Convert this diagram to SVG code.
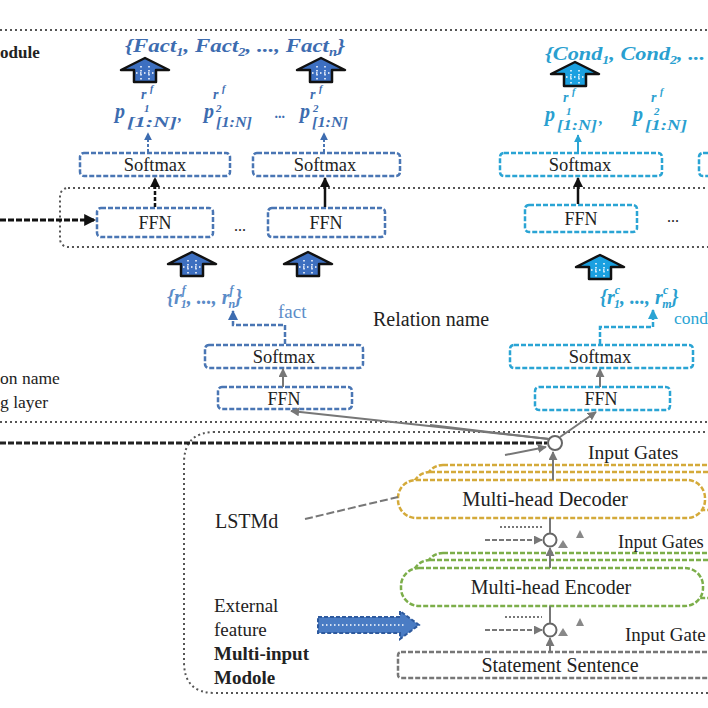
<svg xmlns="http://www.w3.org/2000/svg" width="708" height="708" viewBox="0 0 708 708">
<style>
.t{font-family:"Liberation Serif",serif;fill:#222}
.m{font-family:"Liberation Serif",serif;font-style:italic;font-weight:bold}
.bl{fill:#3d6cb0}
.cy{fill:#2a9fd0}
.lb{fill:#5b8cc8}
.bbox{fill:#fff;stroke:#4a76b4;stroke-width:2.5;stroke-dasharray:5 2}
.cbox{fill:#fff;stroke:#2aa4d4;stroke-width:2.5;stroke-dasharray:5 2}
.dot{fill:none;stroke:#555;stroke-width:2;stroke-dasharray:2 3}
.gl{fill:none;stroke:#777;stroke-width:2}
.yb{fill:#fff;stroke:#d4aa3a;stroke-width:2.5;stroke-dasharray:5 2}
.gb{fill:#fff;stroke:#7cae4a;stroke-width:2.5;stroke-dasharray:5 2}
.sb{fill:#fff;stroke:#777;stroke-width:2.5;stroke-dasharray:5 2}
.wd{stroke:#fff;stroke-width:1.5;stroke-dasharray:1.5 2.5}
</style>
<defs>
<marker id="ak" viewBox="0 0 10 10" refX="9" refY="5" markerWidth="4" markerHeight="4" orient="auto"><path d="M0,0L10,5L0,10z" fill="#111"/></marker>
<marker id="ag" viewBox="0 0 10 10" refX="9" refY="5" markerWidth="4.5" markerHeight="4.5" orient="auto"><path d="M0,0L10,5L0,10z" fill="#777"/></marker>
<marker id="ab" viewBox="0 0 10 10" refX="9" refY="5" markerWidth="4" markerHeight="4" orient="auto"><path d="M0,0L10,5L0,10z" fill="#3d6cb0"/></marker>
<marker id="ac" viewBox="0 0 10 10" refX="9" refY="5" markerWidth="4" markerHeight="4" orient="auto"><path d="M0,0L10,5L0,10z" fill="#2aa4d4"/></marker>
<g id="ua">
<path d="M0,0L24,12L11,12L11,24L-11,24L-11,12L-24,12Z" stroke="#111" stroke-width="2.5" stroke-linejoin="round"/>
<path class="wd" d="M-4,8V22M4,8V22M-9,15H9"/>
</g>
</defs>

<g id="frames">
<line class="dot" x1="0" y1="30" x2="708" y2="30"/>
<rect class="dot" x="60" y="188" width="700" height="59" rx="8"/>
<line class="dot" x1="0" y1="422" x2="708" y2="422"/>
<path class="dot" d="M760,432H215Q184,432 184,463V662Q184,693 215,693H760"/>
</g>

<g id="fact-out">
<text class="m bl" x="125" y="52" font-size="19" textLength="220" lengthAdjust="spacingAndGlyphs">{Fact<tspan font-size="12" dy="4">1</tspan><tspan dy="-4">, Fact</tspan><tspan font-size="12" dy="4">2</tspan><tspan dy="-4">, ..., Fact</tspan><tspan font-size="12" dy="4">n</tspan><tspan dy="-4">}</tspan></text>
<use href="#ua" x="145" y="58" fill="#3d6fc0"/>
<use href="#ua" x="321" y="58" fill="#3d6fc0"/>
</g>
<g id="cond-out">
<text class="m cy" x="545" y="60" font-size="19" textLength="160" lengthAdjust="spacingAndGlyphs">{Cond<tspan font-size="12" dy="4">1</tspan><tspan dy="-4">, Cond</tspan><tspan font-size="12" dy="4">2</tspan><tspan dy="-4">, ...</tspan></text>
<use href="#ua" x="575" y="62" fill="#1aa0e0"/>
</g>

<g id="prob-labels">
<g class="bl">
<text class="m" x="115" y="118" font-size="20">p</text>
<text class="m" x="127" y="127" font-size="14" textLength="50" lengthAdjust="spacingAndGlyphs">[1:N]</text>
<text class="m" x="141" y="99" font-size="14">r</text>
<text class="m" x="150" y="92" font-size="10">f</text>
<text class="m" x="144" y="112" font-size="11">1</text>
<text class="m" x="178" y="121" font-size="16">,</text>

<text class="m" x="204" y="118" font-size="20">p</text>
<text class="m" x="216" y="127" font-size="14" textLength="36" lengthAdjust="spacingAndGlyphs">[1:N]</text>
<text class="m" x="213" y="99" font-size="14">r</text>
<text class="m" x="222" y="92" font-size="10">f</text>
<text class="m" x="216" y="112" font-size="11">2</text>

<text class="m" x="275" y="118" font-size="14">...</text>

<text class="m" x="300" y="118" font-size="20">p</text>
<text class="m" x="312" y="127" font-size="14" textLength="36" lengthAdjust="spacingAndGlyphs">[1:N]</text>
<text class="m" x="310" y="99" font-size="14">r</text>
<text class="m" x="319" y="92" font-size="10">f</text>
<text class="m" x="313" y="112" font-size="11">2</text>
</g>
<g class="cy">
<text class="m" x="545" y="121" font-size="20">p</text>
<text class="m" x="557" y="130" font-size="14" textLength="40" lengthAdjust="spacingAndGlyphs">[1:N]</text>
<text class="m" x="563" y="102" font-size="14">r</text>
<text class="m" x="572" y="95" font-size="10">f</text>
<text class="m" x="566" y="115" font-size="11">1</text>
<text class="m" x="599" y="124" font-size="16">,</text>

<text class="m" x="633" y="121" font-size="20">p</text>
<text class="m" x="645" y="130" font-size="14" textLength="42" lengthAdjust="spacingAndGlyphs">[1:N]</text>
<text class="m" x="651" y="102" font-size="14">r</text>
<text class="m" x="660" y="95" font-size="10">f</text>
<text class="m" x="654" y="115" font-size="11">2</text>
</g>
</g>

<g id="softmax-f1"><rect class="bbox" x="80" y="153" width="150" height="23" rx="4"/><text class="t" x="155" y="171" text-anchor="middle" font-size="18.5">Softmax</text></g>
<g id="softmax-f2"><rect class="bbox" x="253" y="153" width="147" height="23" rx="4"/><text class="t" x="325" y="171" text-anchor="middle" font-size="18.5">Softmax</text></g>
<g id="softmax-c1"><rect class="cbox" x="500" y="153" width="162" height="23" rx="4"/><text class="t" x="580" y="171" text-anchor="middle" font-size="18.5">Softmax</text></g>
<g id="softmax-c2"><rect class="cbox" x="699" y="153" width="40" height="23" rx="4"/></g>
<g id="ffn-f1"><rect class="bbox" x="97" y="208" width="116" height="29" rx="4"/><text class="t" x="155" y="229" text-anchor="middle" font-size="18">FFN</text></g>
<g id="ffn-f2"><rect class="bbox" x="268" y="208" width="117" height="29" rx="4"/><text class="t" x="326" y="229" text-anchor="middle" font-size="18">FFN</text></g>
<g id="ffn-c1"><rect class="cbox" x="525" y="205" width="112" height="27" rx="4"/><text class="t" x="581" y="225" text-anchor="middle" font-size="18">FFN</text></g>
<text class="t" x="240" y="231" text-anchor="middle" font-size="16">...</text>
<text class="t" x="673" y="222" text-anchor="middle" font-size="16">...</text>

<g id="rel-f">
<text class="m lb" x="167" y="304" font-size="20" font-weight="normal">{r<tspan font-size="12" dy="-10">f</tspan><tspan font-size="12" dx="-5" dy="14">1</tspan><tspan dy="-4">, ..., r</tspan><tspan font-size="12" dy="-10">f</tspan><tspan font-size="12" dx="-5" dy="14">n</tspan><tspan dy="-4">}</tspan></text>
<text class="t" x="278" y="318" style="fill:#5b8cc8" font-size="19">fact</text>
<use href="#ua" x="192" y="252" fill="#3d6fc0"/>
<use href="#ua" x="308" y="252" fill="#3d6fc0"/>
</g>
<g id="rel-c">
<text class="m cy" x="600" y="304" font-size="20" font-weight="normal">{r<tspan font-size="12" dy="-10">c</tspan><tspan font-size="12" dx="-6" dy="14">1</tspan><tspan dy="-4">, ..., r</tspan><tspan font-size="12" dy="-10">c</tspan><tspan font-size="12" dx="-6" dy="14">m</tspan><tspan dy="-4">}</tspan></text>
<text class="t" x="674" y="324" style="fill:#2aa4d4" font-size="17.5">cond</text>
<use href="#ua" x="600" y="255" fill="#1aa0e0"/>
</g>
<text class="t" x="373" y="326" font-size="20">Relation name</text>
<text class="t" x="0" y="384" font-size="17.5">on name</text>
<text class="t" x="0" y="408" font-size="17.5">g layer</text>
<text class="t" x="0" y="58" font-size="17" font-weight="bold">odule</text>

<g id="softmax-rf"><rect class="bbox" x="205" y="345" width="158" height="23" rx="4"/><text class="t" x="284" y="363" text-anchor="middle" font-size="18.5">Softmax</text></g>
<g id="ffn-rf"><rect class="bbox" x="218" y="387" width="134" height="22" rx="4"/><text class="t" x="284" y="405" text-anchor="middle" font-size="18">FFN</text></g>
<g id="softmax-rc"><rect class="cbox" x="510" y="345" width="183" height="23" rx="4"/><text class="t" x="600" y="363" text-anchor="middle" font-size="18.5">Softmax</text></g>
<g id="ffn-rc"><rect class="cbox" x="535" y="387" width="135" height="23" rx="4"/><text class="t" x="601" y="405" text-anchor="middle" font-size="18">FFN</text></g>

<g id="decoder">
<rect class="yb" x="425" y="465" width="330" height="38" rx="18"/>
<rect class="yb" x="412" y="472" width="330" height="38" rx="18"/>
<rect class="yb" x="398" y="480" width="307" height="38" rx="18"/>
<text class="t" x="545" y="506" text-anchor="middle" font-size="20.5">Multi-head Decoder</text>
</g>
<g id="encoder">
<rect class="gb" x="425" y="553" width="330" height="38" rx="18"/>
<rect class="gb" x="412" y="560" width="330" height="38" rx="18"/>
<rect class="gb" x="401" y="568" width="302" height="38" rx="18"/>
<text class="t" x="551" y="594" text-anchor="middle" font-size="20">Multi-head Encoder</text>
</g>
<g id="statement">
<rect class="sb" x="398" y="652" width="330" height="26" rx="3"/>
<text class="t" x="560" y="672" text-anchor="middle" font-size="20">Statement Sentence</text>
</g>
<g id="gate1"><circle cx="555" cy="443" r="7" fill="#fff" stroke="#666" stroke-width="2"/><text class="t" x="588" y="459" font-size="19.5">Input Gates</text></g>
<g id="gate2"><circle cx="550" cy="540" r="6.5" fill="#fff" stroke="#666" stroke-width="2"/><text class="t" x="618" y="548" font-size="18.5">Input Gates</text></g>
<g id="gate3"><circle cx="550" cy="630" r="6.5" fill="#fff" stroke="#666" stroke-width="2"/><text class="t" x="625" y="641" font-size="19">Input Gate</text></g>

<g id="labels-left">
<text class="t" x="215" y="528" font-size="20">LSTMd</text>
<text class="t" x="214" y="612" font-size="19">External</text>
<text class="t" x="214" y="636" font-size="19">feature</text>
<text class="t" x="214" y="660" font-size="19" font-weight="bold">Multi-input</text>
<text class="t" x="214" y="684" font-size="19" font-weight="bold">Modole</text>
</g>
<g id="ext-arrow">
<path d="M318,617H400V611L419,625L400,639V633H318Z" fill="#4a7cc4" stroke="#2e5a9e" stroke-width="2" stroke-dasharray="4 2"/>
<path class="wd" d="M322,625H405"/>
</g>

<g id="connectors">
<line x1="0" y1="220" x2="95" y2="220" stroke="#111" stroke-width="3" stroke-dasharray="6 2" marker-end="url(#ak)"/>
<line x1="155" y1="207" x2="155" y2="178" stroke="#111" stroke-width="2.5" stroke-dasharray="4 2" marker-end="url(#ak)"/>
<line x1="325" y1="207" x2="325" y2="178" stroke="#111" stroke-width="2.5" marker-end="url(#ak)"/>
<line x1="578" y1="204" x2="578" y2="178" stroke="#111" stroke-width="2.5" marker-end="url(#ak)"/>
<line x1="148" y1="152" x2="148" y2="133" stroke="#4a76b4" stroke-width="2" stroke-dasharray="3 2" marker-end="url(#ab)"/>
<line x1="324" y1="152" x2="324" y2="133" stroke="#4a76b4" stroke-width="2" stroke-dasharray="3 2" marker-end="url(#ab)"/>
<line x1="578" y1="152" x2="578" y2="135" stroke="#2aa4d4" stroke-width="2" marker-end="url(#ac)"/>
<path d="M285,344V325H233V311" fill="none" stroke="#4a76b4" stroke-width="2.5" stroke-dasharray="5 2" marker-end="url(#ab)"/>
<path d="M600,344V327H653V310" fill="none" stroke="#2aa4d4" stroke-width="2.5" stroke-dasharray="5 2" marker-end="url(#ac)"/>
<line class="gl" x1="283" y1="387" x2="283" y2="369" marker-end="url(#ag)"/>
<line class="gl" x1="600" y1="387" x2="600" y2="369" marker-end="url(#ag)"/>
<line x1="0" y1="443" x2="547" y2="443" stroke="#222" stroke-width="3" stroke-dasharray="6 2"/>
<line class="gl" x1="549" y1="439" x2="291" y2="411" marker-end="url(#ag)"/>
<line class="gl" x1="549" y1="439" x2="430" y2="425" stroke-width="1.5"/>
<line class="gl" x1="560" y1="437" x2="596" y2="412" marker-end="url(#ag)"/>
<line class="gl" x1="505" y1="455" x2="546" y2="447" marker-end="url(#ag)"/>
<line class="gl" x1="553" y1="480" x2="553" y2="452" marker-end="url(#ag)"/>
<line class="gl" x1="305" y1="519" x2="398" y2="497" stroke-width="1.2" stroke-dasharray="8 3"/>
<line class="gl" x1="485" y1="540" x2="542" y2="540" stroke-dasharray="5 2" marker-end="url(#ag)"/>
<line class="gl" x1="500" y1="527" x2="542" y2="527" stroke-dasharray="2 2"/>
<line class="gl" x1="550" y1="518" x2="550" y2="533"/>
<line class="gl" x1="550" y1="568" x2="550" y2="548" marker-end="url(#ag)"/>
<path d="M558,548l5,-8l5,8z M576,538l4,-8l4,8z" fill="#888"/>
<line class="gl" x1="485" y1="630" x2="542" y2="630" stroke-dasharray="5 2" marker-end="url(#ag)"/>
<line class="gl" x1="505" y1="617" x2="542" y2="617" stroke-dasharray="2 2"/>
<line class="gl" x1="550" y1="606" x2="550" y2="623"/>
<line class="gl" x1="550" y1="652" x2="550" y2="638" marker-end="url(#ag)"/>
<path d="M558,636l5,-8l5,8z M576,626l4,-8l4,8z" fill="#888"/>
</g>
</svg>
